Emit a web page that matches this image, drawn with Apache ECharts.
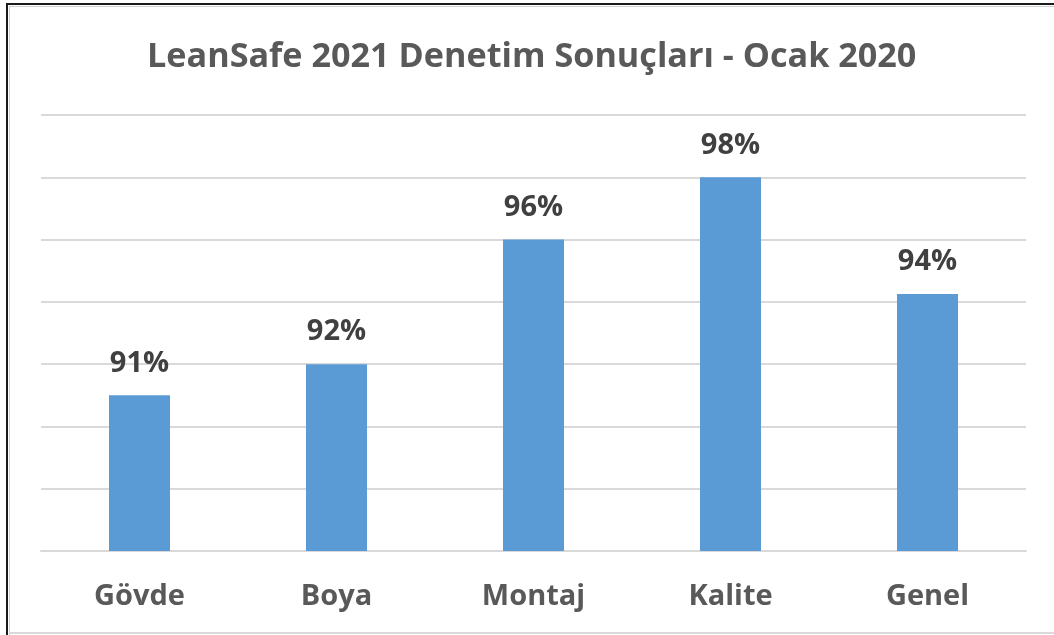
<!DOCTYPE html>
<html>
<head>
<meta charset="utf-8">
<script src="https://cdn.jsdelivr.net/npm/echarts@6/dist/echarts.min.js"></script>
<style>
  html, body { margin: 0; padding: 0; background: #ffffff; }
  #chart { width: 1054px; height: 635px; }
</style>
</head>
<body>
<div id="chart"></div>
<script>
// Audit results per department (percent)
const titleText = 'LeanSafe 2021 Denetim Sonuçları - Ocak 2020';
const categories = ['Gövde', 'Boya', 'Montaj', 'Kalite', 'Genel'];
const scores = [91, 92, 96, 98, 94.25];
const axisMin = 86;
const axisMax = 100;
const axisStep = 2;

const FONT = '"Open Sans", "DejaVu Sans", sans-serif';

const chart = echarts.init(document.getElementById('chart'), null, { renderer: 'canvas' });

chart.setOption({
  backgroundColor: '#ffffff',
  animation: false,
  title: {
    text: titleText,
    left: 147,
    top: 39,
    padding: 0,
    textStyle: {
      fontFamily: FONT,
      fontSize: 34.2,
      fontWeight: 'bold',
      color: '#595959',
      lineHeight: 36
    }
  },
  grid: { left: 41, right: 28, top: 115, bottom: 84, containLabel: false },
  xAxis: {
    type: 'category',
    data: categories,
    axisLine: { show: true, lineStyle: { color: '#d9d9d9', width: 2 } },
    axisTick: { show: false },
    axisLabel: {
      margin: 30,
      fontFamily: FONT,
      fontSize: 29,
      fontWeight: 'bold',
      color: '#595959',
      lineHeight: 32
    }
  },
  yAxis: {
    type: 'value',
    min: axisMin,
    max: axisMax,
    interval: axisStep,
    axisLine: { show: false },
    axisTick: { show: false },
    axisLabel: { show: false },
    splitLine: { show: true, lineStyle: { color: '#d9d9d9', width: 2 } }
  },
  series: [{
    type: 'bar',
    data: scores,
    barWidth: 61,
    itemStyle: { color: '#5b9bd5' },
    label: {
      show: true,
      position: 'top',
      distance: 17,
      formatter: p => Math.round(p.value) + '%',
      fontFamily: FONT,
      fontSize: 29,
      fontWeight: 'bold',
      color: '#404040',
      lineHeight: 30
    }
  }],
  graphic: [
    // frame: dark outer edge on top/left, light chart border inside
    { type: 'rect', shape: { x: 6, y: 3, width: 1060, height: 2 }, style: { fill: '#1a1a1a' }, silent: true },
    { type: 'rect', shape: { x: 6, y: 3, width: 2, height: 640 }, style: { fill: '#1a1a1a' }, silent: true },
    { type: 'rect', shape: { x: 9, y: 6, width: 1060, height: 1 }, style: { fill: '#d0d0d0' }, silent: true },
    { type: 'rect', shape: { x: 9, y: 6, width: 1, height: 640 }, style: { fill: '#d0d0d0' }, silent: true },
    { type: 'rect', shape: { x: 9, y: 632, width: 1060, height: 2 }, style: { fill: '#dadada' }, silent: true }
  ]
});
</script>
</body>
</html>
